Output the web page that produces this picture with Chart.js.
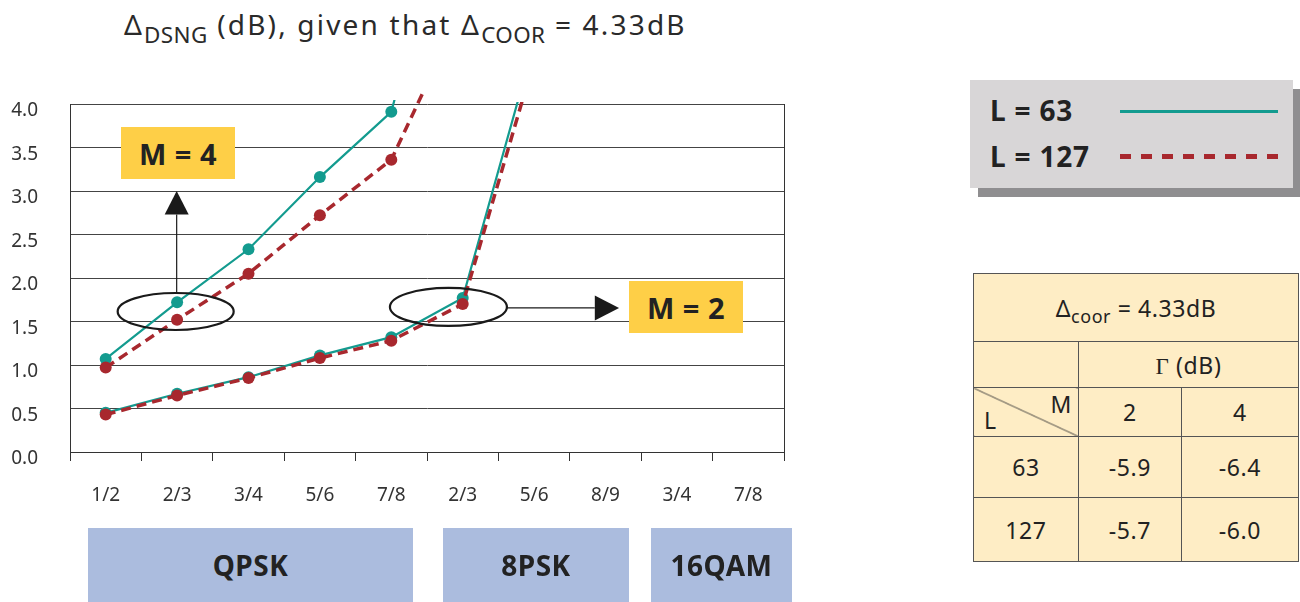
<!DOCTYPE html>
<html>
<head>
<meta charset="utf-8">
<script src="https://cdn.jsdelivr.net/npm/chart.js@4.4.1/dist/chart.umd.min.js"></script>
<style>
  body { margin: 0; background: #fff; font-family: "Noto Sans", sans-serif; color: #222; }
  #page { position: relative; width: 1300px; height: 602px; overflow: hidden; }
  #chartBox { position: absolute; left: 0; top: 0; width: 800px; height: 602px; }
  .title { position: absolute; left: 124px; top: 4px; font-size: 28px; line-height: 40px; color: #2a2a2a; white-space: nowrap; letter-spacing: 2.2px; }
  .title sub { font-size: 0.8em; vertical-align: -0.35em; line-height: 0; letter-spacing: 0.4px; }
  .tbl sub { font-size: 0.78em; vertical-align: -0.35em; line-height: 0; }
  .tag { position: absolute; background: #fecf47; font-weight: bold; font-size: 29px; letter-spacing: 0.5px; display: flex; align-items: center; justify-content: center; color: #222; }
  .mod { position: absolute; top: 528px; height: 74px; background: #abbcde; font-weight: bold; font-size: 28px; letter-spacing: 0.5px; display: flex; align-items: center; justify-content: center; color: #222; }
  #legend { position: absolute; left: 970px; top: 80px; width: 323px; height: 108px; background: #d8d6d7; box-shadow: 8px 9px 0 #8f8e90; }
  #legend .row { position: absolute; left: 20px; font-weight: bold; font-size: 28px; line-height: 32px; letter-spacing: 0.8px; }
  #legend .ln { position: absolute; left: 150px; width: 158px; height: 3px; }
  .tbl { position: absolute; left: 973px; top: 273px; border-collapse: collapse; background: #feedc5; font-size: 23px; letter-spacing: 0.6px; color: #222; }
  .tbl td { border: 1px solid #555; text-align: center; padding: 0; }
  .diag { position: relative; background: linear-gradient(to top right, transparent calc(50% - 0.8px), #333 50%, transparent calc(50% + 0.8px)); }
  .diag span { position: absolute; }
</style>
</head>
<body>
<div id="page">
  <div class="title">&Delta;<sub>DSNG</sub> (dB), given that &Delta;<sub>COOR</sub> = 4.33dB</div>
  <div id="chartBox"><canvas id="chart"></canvas></div>

  <div class="tag" style="left:121px; top:127px; width:114px; height:52px;">M = 4</div>
  <div class="tag" style="left:629px; top:281px; width:114px; height:52px;">M = 2</div>

  <div class="mod" style="left:88px; width:325px;">QPSK</div>
  <div class="mod" style="left:443px; width:186px;">8PSK</div>
  <div class="mod" style="left:651px; width:141px;">16QAM</div>

  <div id="legend">
    <div class="row" style="top:14px;">L = 63</div>
    <div class="ln" style="top:30px; background:#139b8f;"></div>
    <div class="row" style="top:60px;">L = 127</div>
    <div class="ln" style="top:74px; height:5px; background:repeating-linear-gradient(to right, #a8282e 0 11px, transparent 11px 21px);"></div>
  </div>

  <table class="tbl">
    <colgroup><col style="width:105px"><col style="width:103px"><col style="width:117px"></colgroup>
    <tr style="height:68px"><td colspan="3">&Delta;<sub>coor</sub> = 4.33dB</td></tr>
    <tr style="height:46px"><td></td><td colspan="2"><span style="font-family:'Liberation Serif',serif;">&Gamma;</span> (dB)</td></tr>
    <tr style="height:49px"><td class="diag"><span style="right:6px; top:0px;">M</span><span style="left:10px; bottom:0px;">L</span></td><td>2</td><td>4</td></tr>
    <tr style="height:61px"><td>63</td><td>-5.9</td><td>-6.4</td></tr>
    <tr style="height:64px"><td>127</td><td>-5.7</td><td>-6.0</td></tr>
  </table>
</div>

<script>
// kodhastigheter per modulation (QPSK 1/2..7/8, 8PSK 2/3..8/9, 16QAM 3/4, 7/8)
const codeRates = ["1/2", "2/3", "3/4", "5/6", "7/8", "2/3", "5/6", "8/9", "3/4", "7/8"];
const yTicks = [0, 0.5, 1, 1.5, 2, 2.5, 3, 3.5, 4];

// M = 4 (sista värdet ligger ovanför skalan, linjen klipps)
const m4L63  = [1.07, 1.72, 2.33, 3.16, 3.91, 7.0, null, null, null, null];
const m4L127 = [0.97, 1.52, 2.05, 2.72, 3.36, 5.1, null, null, null, null];
// M = 2
const m2L63  = [0.45, 0.67, 0.86, 1.11, 1.32, 1.77, 4.7, null, null, null];
const m2L127 = [0.43, 0.65, 0.85, 1.08, 1.28, 1.70, 4.5, null, null, null];

const TEAL = "#139b8f";
const RED = "#a8282e";

function tealSet(data, clipTop) {
  return {
    data, borderColor: TEAL, backgroundColor: TEAL, borderWidth: 2.2,
    pointRadius: 6, pointHoverRadius: 6, pointBorderWidth: 0,
    clip: { left: 0, top: clipTop, right: 0, bottom: 0 }, order: 2
  };
}
function redSet(data, clipTop) {
  return {
    data, borderColor: RED, backgroundColor: RED, borderWidth: 3.5, borderDash: [10, 6],
    pointRadius: 6, pointHoverRadius: 6, pointBorderWidth: 0,
    clip: { left: 0, top: clipTop, right: 0, bottom: 0 }, order: 1
  };
}

// ellipser och pilar, placerade via skalorna
const notes = {
  id: "notes",
  beforeDatasetsDraw(chart) {
    const { ctx, chartArea: a } = chart;
    ctx.save();
    ctx.strokeStyle = "#333";
    ctx.lineWidth = 1;
    ctx.beginPath();
    ctx.moveTo(Math.round(a.right) + 0.5, a.top);
    ctx.lineTo(Math.round(a.right) + 0.5, a.bottom);
    ctx.stroke();
    ctx.restore();
  },
  afterDatasetsDraw(chart) {
    const { ctx, scales: { x, y } } = chart;
    ctx.save();
    ctx.strokeStyle = "#1a1a1a";
    ctx.fillStyle = "#1a1a1a";
    ctx.lineWidth = 2.2;

    // M = 4: ellips runt 2/3, pil uppåt
    const e1x = x.getPixelForValue(0.98), e1y = y.getPixelForValue(1.615);
    ctx.beginPath();
    ctx.ellipse(e1x, e1y, 58, 18.5, 0, 0, Math.PI * 2);
    ctx.stroke();
    const tip1 = y.getPixelForValue(3.0), base1 = y.getPixelForValue(2.73);
    ctx.lineWidth = 1.2;
    ctx.beginPath();
    ctx.moveTo(e1x + 1, e1y - 18.5);
    ctx.lineTo(e1x + 1, base1);
    ctx.stroke();
    ctx.beginPath();
    ctx.moveTo(e1x + 1, tip1);
    ctx.lineTo(e1x - 11, base1);
    ctx.lineTo(e1x + 13, base1);
    ctx.closePath();
    ctx.fill();

    // M = 2: ellips runt 8PSK 2/3, pil åt höger
    ctx.lineWidth = 2.2;
    const e2x = x.getPixelForValue(4.8), e2y = y.getPixelForValue(1.667);
    ctx.beginPath();
    ctx.ellipse(e2x, e2y, 58.5, 19, 0, 0, Math.PI * 2);
    ctx.stroke();
    const base2 = x.getPixelForValue(6.85), tip2 = x.getPixelForValue(7.19);
    ctx.lineWidth = 1.2;
    ctx.beginPath();
    ctx.moveTo(e2x + 58.5, e2y + 1);
    ctx.lineTo(base2, e2y + 1);
    ctx.stroke();
    ctx.beginPath();
    ctx.moveTo(tip2, e2y + 1);
    ctx.lineTo(base2, e2y - 11.5);
    ctx.lineTo(base2, e2y + 13.5);
    ctx.closePath();
    ctx.fill();
    ctx.restore();
  }
};

new Chart(document.getElementById("chart"), {
  type: "line",
  data: {
    labels: codeRates,
    datasets: [
      tealSet(m4L63, 4),
      redSet(m4L127, 14),
      tealSet(m2L63, 2),
      redSet(m2L127, 2)
    ]
  },
  options: {
    responsive: true,
    maintainAspectRatio: false,
    animation: false,
    spanGaps: false,
    layout: { padding: { top: 104, right: 16, left: 0, bottom: 0 } },
    plugins: { legend: { display: false }, tooltip: { enabled: false } },
    scales: {
      x: {
        offset: true,
        afterFit: s => { s.height = 150; },
        border: { color: "#333", width: 1 },
        grid: { drawOnChartArea: false, tickLength: 9, color: "#333", offset: true },
        ticks: { color: "#333", padding: 23, font: { family: "Noto Sans", size: 19 }, maxRotation: 0, autoSkip: false }
      },
      y: {
        min: 0, max: 4,
        afterFit: s => { s.width = 70; },
        afterBuildTicks: s => { s.ticks = yTicks.map(v => ({ value: v })); },
        border: { color: "#333", width: 1 },
        grid: { color: "#444", drawTicks: false },
        ticks: {
          color: "#333", padding: 32, labelOffset: 7,
          font: { family: "Noto Sans", size: 19 },
          callback: v => v.toFixed(1)
        }
      }
    }
  },
  plugins: [notes]
});
</script>
</body>
</html>
